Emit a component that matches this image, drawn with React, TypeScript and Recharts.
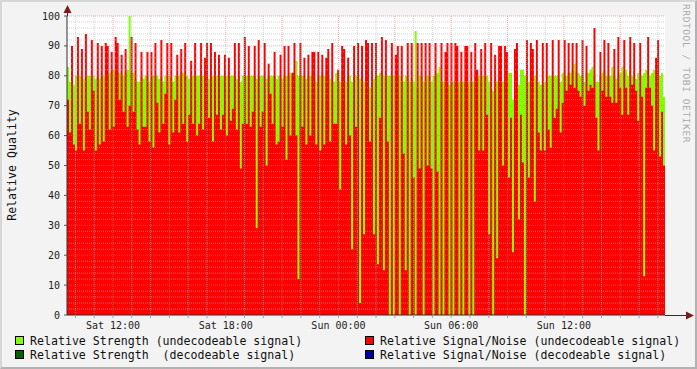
import { AreaChart, Area, XAxis, YAxis, CartesianGrid, ReferenceLine } from 'recharts';

// samples, about one per 2px column
const STRENGTH_UNDECODEABLE = [
  83, 78, 78, 77, 80, 80, 80, 79, 79, 78, 80, 80, 79, 80, 79, 80, 79, 80, 80, 79, 80, 81, 82, 82, 80, 81, 81, 80, 80, 81, 82, 100, 81, 81, 79, 78, 78, 80,
  79, 80, 80, 78, 80, 80, 80, 80, 79, 80, 78, 80, 78, 80, 79, 78, 80, 80, 80, 81, 81, 80, 80, 79, 80, 80, 80, 80, 80, 80, 80, 80, 80, 79, 80, 80, 80,
  80, 80, 80, 80, 80, 80, 80, 80, 80, 80, 79, 80, 78, 80, 80, 80, 80, 80, 80, 80, 79, 80, 80, 80, 80, 79, 80, 80, 80, 80, 79, 80, 80, 79, 80, 80, 80, 81,
  80, 80, 85, 80, 80, 80, 80, 79, 80, 80, 80, 79, 78, 80, 80, 81, 80, 80, 80, 79, 79, 78, 81, 81, 78, 78, 80, 78, 80, 80, 78, 80, 80, 80, 79, 80, 78,
  78, 78, 76, 80, 79, 80, 80, 81, 81, 80, 79, 80, 80, 80, 80, 80, 80, 80, 78, 78, 80, 80, 78, 79, 78, 95, 76, 80, 80, 78, 78, 80, 80, 78, 80, 80, 81, 83,
  78, 78, 78, 78, 77, 78, 78, 78, 77, 78, 78, 78, 78, 77, 78, 78, 78, 80, 79, 80, 78, 80, 80, 80, 78, 78, 75, 79, 78, 79, 78, 78, 78, 78, 81, 81, 72,
  80, 78, 77, 82, 82, 80, 80, 78, 80, 78, 80, 78, 78, 77, 77, 78, 78, 80, 80, 79, 80, 80, 79, 78, 81, 80, 80, 81, 81, 82, 84, 81, 81, 80, 80, 78, 81, 81,
  82, 83, 80, 78, 78, 80, 81, 82, 80, 80, 80, 83, 80, 79, 80, 81, 83, 81, 82, 80, 83, 80, 79, 79, 81, 80, 80, 81, 82, 81, 80, 81, 82, 81, 80, 80, 81, 73,
];

const SIGNAL_NOISE_UNDECODEABLE = [
  72, 61, 90, 57, 55, 93, 64, 89, 55, 94, 68, 62, 92, 75, 55, 91, 57, 90, 58, 91, 90, 62, 88, 63, 93, 91, 72, 87, 68, 89, 63, 70, 93, 68, 91, 62, 57, 88,
  63, 63, 88, 58, 88, 56, 91, 71, 61, 92, 64, 74, 91, 57, 91, 61, 72, 87, 61, 89, 64, 91, 58, 67, 85, 64, 91, 60, 64, 91, 62, 86, 91, 66, 91, 58, 88,
  67, 87, 62, 67, 87, 60, 86, 65, 69, 91, 62, 91, 49, 64, 93, 64, 90, 63, 68, 90, 29, 92, 63, 68, 91, 50, 84, 74, 64, 88, 57, 58, 87, 63, 90, 52, 90, 60,
  81, 91, 60, 12, 91, 63, 86, 57, 87, 60, 88, 88, 57, 88, 55, 87, 57, 86, 89, 58, 91, 64, 64, 82, 42, 90, 89, 57, 86, 60, 22, 90, 63, 91, 4, 90, 27,
  92, 91, 58, 91, 27, 91, 17, 66, 93, 15, 92, 58, 0, 91, 0, 87, 90, 0, 90, 54, 15, 91, 0, 91, 46, 0, 91, 49, 91, 0, 91, 50, 91, 49, 0, 91, 48, 0,
  91, 0, 88, 91, 0, 91, 0, 91, 90, 0, 88, 0, 90, 90, 0, 88, 0, 91, 82, 55, 89, 55, 91, 67, 27, 91, 0, 87, 19, 90, 90, 50, 90, 88, 46, 66, 21,
  89, 91, 32, 67, 51, 0, 92, 46, 91, 89, 38, 92, 61, 55, 91, 55, 91, 62, 56, 92, 66, 69, 92, 61, 71, 92, 75, 91, 77, 91, 76, 91, 75, 73, 92, 70, 90, 75,
  77, 76, 96, 66, 55, 88, 75, 92, 73, 91, 73, 71, 89, 71, 93, 76, 67, 92, 76, 67, 93, 77, 91, 75, 65, 91, 73, 13, 76, 93, 76, 70, 55, 86, 92, 53, 68, 50,
];

const TICK_HOURS = [12, 18, 24, 30, 36];
const TICK_LABELS = ['Sat 12:00', 'Sat 18:00', 'Sun 00:00', 'Sun 06:00', 'Sun 12:00'];
const Y_TICKS = [0, 10, 20, 30, 40, 50, 60, 70, 80, 90, 100];

const LEGEND = [
  { name: 'Relative Strength (undecodeable signal)', color: '#80ff00' },
  { name: 'Relative Signal/Noise (undecodeable signal)', color: '#ff0000' },
  { name: 'Relative Strength  (decodeable signal)', color: '#006400' },
  { name: 'Relative Signal/Noise (decodeable signal)', color: '#0000a0' },
];

// time window in hours counted from Sat 00:00
const START = 9.552;
const END = 41.38;
const STEP = (END - START) / SIGNAL_NOISE_UNDECODEABLE.length;

const data = SIGNAL_NOISE_UNDECODEABLE.map((snr, i) => ({
  t: START + i * STEP,
  snr,
  strength: STRENGTH_UNDECODEABLE[i],
}));
data.push({ ...data[data.length - 1], t: END });

const hours: number[] = [];
for (let h = Math.ceil(START); h <= Math.floor(END); h++) hours.push(h);
const yMinor: number[] = [];
for (let v = 2; v < 100; v += 2) if (v % 10 !== 0) yMinor.push(v);

const FONT = '"DejaVu Sans Mono", monospace';
const MINOR = { stroke: '#b4b4b4', strokeOpacity: 0.6, strokeDasharray: '1 1' };
const MAJOR = { stroke: '#e07070', strokeOpacity: 0.55, strokeDasharray: '1 1' };

const tickLabel = (v: number) => {
  const i = TICK_HOURS.indexOf(v);
  return i >= 0 ? TICK_LABELS[i] : '';
};

export default function App() {
  return (
    <div style={{ position: 'fixed', left: 0, top: 0, width: 697, height: 369, background: '#f3f3f3' }}>
      <AreaChart width={697} height={369} data={data} margin={{ top: 16, right: 32, bottom: 28, left: 27 }}>
        <CartesianGrid fill="#ffffff" horizontal={false} vertical={false} />
        <XAxis
          dataKey="t"
          type="number"
          domain={[START, END]}
          ticks={hours}
          interval={0}
          tickFormatter={tickLabel}
          height={26}
          tickSize={3}
          tickMargin={4}
          axisLine={{ stroke: '#303030' }}
          tickLine={{ stroke: '#a0a0a0' }}
          tick={{ fontFamily: FONT, fontSize: 10, fill: '#222' }}
          allowDataOverflow
        />
        <YAxis
          type="number"
          domain={[0, 100]}
          ticks={Y_TICKS}
          interval={0}
          width={40}
          tickSize={3}
          tickMargin={4}
          axisLine={{ stroke: '#303030' }}
          tickLine={{ stroke: '#505050' }}
          tick={{ fontFamily: FONT, fontSize: 10, fill: '#222' }}
          allowDataOverflow
        />
        <Area
          type="stepAfter"
          dataKey="strength"
          fill="#80ff00"
          fillOpacity={1}
          stroke="none"
          dot={false}
          activeDot={false}
          isAnimationActive={false}
        />
        <Area
          type="stepAfter"
          dataKey="snr"
          fill="#ff0000"
          fillOpacity={1}
          stroke="none"
          dot={false}
          activeDot={false}
          isAnimationActive={false}
        />
        {yMinor.map(v => <ReferenceLine key={'ym' + v} y={v} {...MINOR} />)}
        {hours.filter(h => h % 3 !== 0).map(h => <ReferenceLine key={'xm' + h} x={h} {...MINOR} />)}
        {Y_TICKS.slice(1).map(v => <ReferenceLine key={'yM' + v} y={v} {...MAJOR} />)}
        {hours.filter(h => h % 3 === 0).map(h => <ReferenceLine key={'xM' + h} x={h} {...MAJOR} />)}
      </AreaChart>

      <svg width={697} height={369} style={{ position: 'absolute', left: 0, top: 0, pointerEvents: 'none' }}>
        {/* axis arrows */}
        <line x1={665} y1={315.5} x2={689} y2={315.5} stroke="#303030" />
        <polygon points="686,311.5 694,315.5 686,319.5" fill="#7a1c1c" />
        <line x1={67.5} y1={16} x2={67.5} y2={9} stroke="#303030" />
        <polygon points="63.5,13 67.5,5 71.5,13" fill="#7a1c1c" />

        <text
          transform="translate(16,165) rotate(-90)"
          textAnchor="middle"
          fontFamily={FONT}
          fontSize={11.6}
          fill="#111"
        >
          Relative Quality
        </text>
        <text
          transform="translate(683,4) rotate(90)"
          fontFamily={FONT}
          fontSize={9.5}
          letterSpacing={0.6}
          fill="#a8a8a8"
        >
          RRDTOOL / TOBI OETIKER
        </text>

        {LEGEND.map((item, i) => {
          const x = i % 2 === 0 ? 15 : 365;
          const y = i < 2 ? 345 : 359;
          return (
            <g key={item.name}>
              <rect x={x + 0.5} y={y - 8.5} width={8} height={8} fill={item.color} stroke="#000" />
              <text x={x + 15} y={y} fontFamily={FONT} fontSize={11.6} fill="#111" style={{ whiteSpace: 'pre' }}>
                {item.name}
              </text>
            </g>
          );
        })}
      </svg>
      <div
        style={{
          position: 'absolute',
          inset: 0,
          boxSizing: 'border-box',
          borderTop: '2px solid #d6d6d6',
          borderLeft: '2px solid #d6d6d6',
          borderBottom: '2px solid #b2b2b2',
          borderRight: '2px solid #b2b2b2',
          pointerEvents: 'none',
        }}
      />
    </div>
  );
}
